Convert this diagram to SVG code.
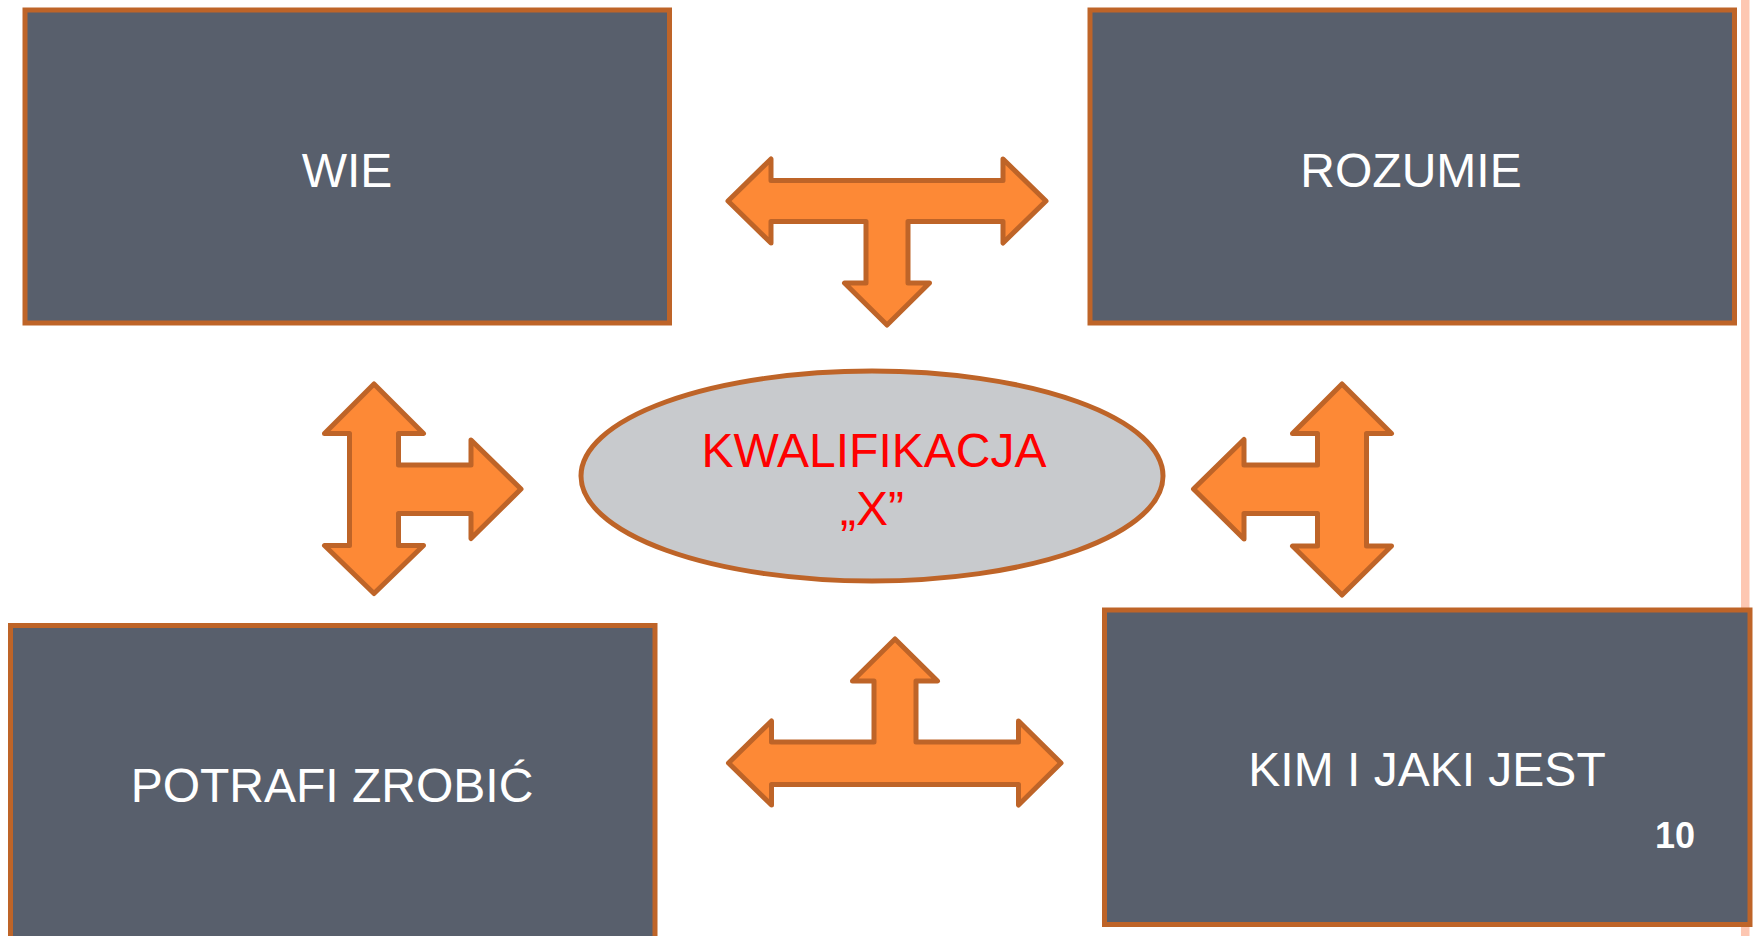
<svg xmlns="http://www.w3.org/2000/svg" width="1756" height="936" viewBox="0 0 1756 936">
<style>
.box{fill:#585F6C;stroke:#BE6428;stroke-width:5}
.arr{fill:#FD8936;stroke:#BE6428;stroke-width:5;stroke-linejoin:round}
.lbl{font-family:"Liberation Sans",Arial,sans-serif;font-size:48px;fill:#FFFFFF;text-anchor:middle}
.ctr{font-family:"Liberation Sans",Arial,sans-serif;font-size:48px;fill:#FF0000;text-anchor:middle}
</style>
<rect x="0" y="0" width="1756" height="936" fill="#FFFFFF"/>
<rect x="1741" y="0" width="8.5" height="936" fill="#FDC7B2"/>
<g id="node-wie">
<rect class="box" x="25" y="10" width="644.5" height="313"/>
<text class="lbl" x="347" y="187">WIE</text>
</g>
<g id="node-rozumie">
<rect class="box" x="1090" y="10" width="644.5" height="313"/>
<text class="lbl" x="1411" y="187">ROZUMIE</text>
</g>
<g id="node-potrafi">
<rect class="box" x="10.5" y="625.5" width="644.5" height="320"/>
<text class="lbl" x="332" y="802">POTRAFI ZROBIĆ</text>
</g>
<g id="node-kim">
<rect class="box" x="1104.5" y="610" width="645.5" height="314.5"/>
<text class="lbl" x="1427" y="786">KIM I JAKI JEST</text>
<text x="1675" y="848" font-family="'Liberation Sans',Arial,sans-serif" font-size="36" font-weight="bold" fill="#FFFFFF" text-anchor="middle">10</text>
</g>
<g id="node-kwalifikacja">
<ellipse cx="872" cy="476" rx="291" ry="105" fill="#C8CACD" stroke="#BE6428" stroke-width="5"/>
<text class="ctr" x="874" y="467">KWALIFIKACJA</text>
<text class="ctr" x="872" y="525">„X”</text>
</g>
<g id="connectors">
<path class="arr" d="M728,201 L771,159 L771,180.5 L1003,180.5 L1003,159 L1046,201 L1003,243 L1003,221.5 L908,221.5 L908,283 L929.5,283 L887,325 L844.5,283 L866,283 L866,221.5 L771,221.5 L771,243 Z"/>
<path class="arr" d="M374,384 L423.5,433.5 L398.5,433.5 L398.5,465 L471,465 L471,440 L521,489 L471,538.5 L471,513.5 L398.5,513.5 L398.5,545.5 L423.5,545.5 L374,593.5 L324.5,545.5 L349.5,545.5 L349.5,433.5 L324.5,433.5 Z"/>
<path class="arr" d="M1342,384 L1391.5,433.5 L1366.5,433.5 L1366.5,546 L1391.5,546 L1342,595 L1292.5,546 L1317.5,546 L1317.5,513.5 L1244,513.5 L1244,539 L1193.5,489 L1244,439.5 L1244,465 L1317.5,465 L1317.5,433.5 L1292.5,433.5 Z"/>
<path class="arr" d="M895,639 L937.5,681 L916,681 L916,742 L1018.5,742 L1018.5,721 L1061,763 L1018.5,805 L1018.5,784.5 L771.5,784.5 L771.5,805 L728.5,763 L771.5,721 L771.5,742 L874,742 L874,681 L852.5,681 Z"/>
</g>
</svg>
